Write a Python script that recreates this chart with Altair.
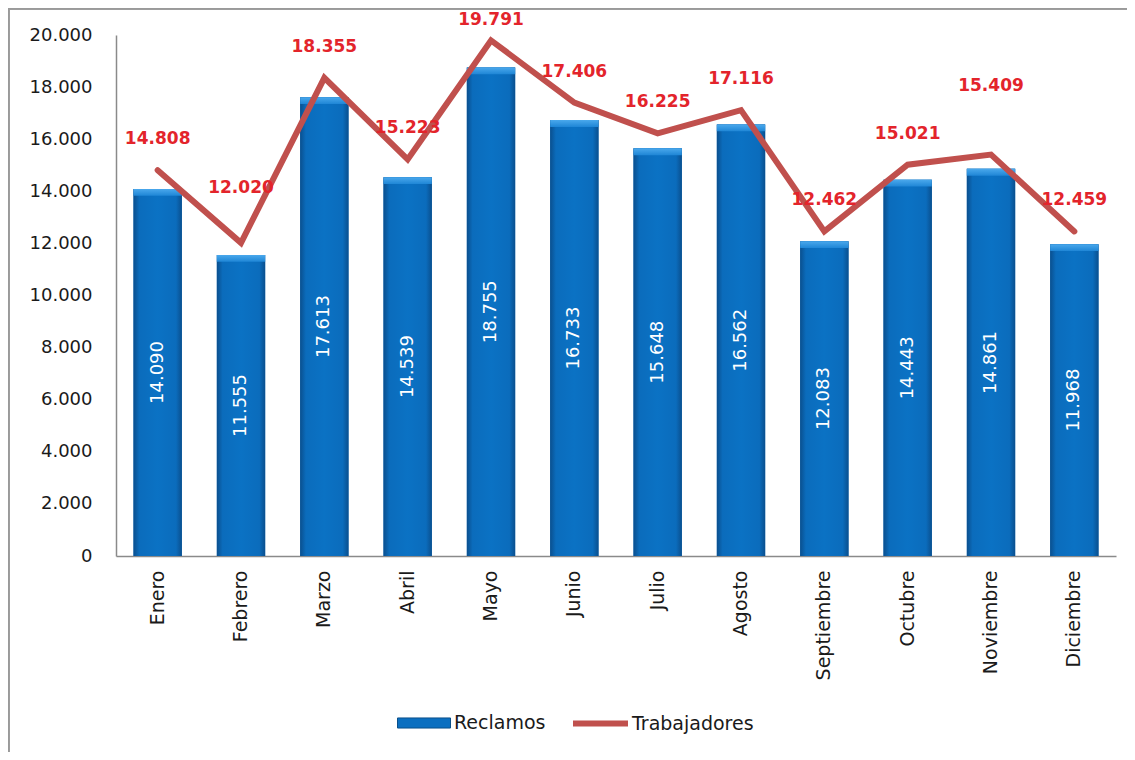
import altair as alt
import pandas as pd

meses = ["Enero", "Febrero", "Marzo", "Abril", "Mayo", "Junio", "Julio",
         "Agosto", "Septiembre", "Octubre", "Noviembre", "Diciembre"]
reclamos = [14090, 11555, 17613, 14539, 18755, 16733, 15648, 16562, 12083, 14443, 14861, 11968]
trabajadores = [14808, 12020, 18355, 15223, 19791, 17406, 16225, 17116, 12462, 15021, 15409, 12459]
y_ticks = [0, 2000, 4000, 6000, 8000, 10000, 12000, 14000, 16000, 18000, 20000]

df = pd.DataFrame({"mes": meses, "reclamos": reclamos, "trabajadores": trabajadores})

FONT = "DejaVu Sans"
AXIS_COL = "#8a8a8a"
BAR_COL = "#0B6FC0"
LINE_COL = "#C0504D"
LABEL_RED = "#E3242B"

x_axis = alt.Axis(title=None, labelAngle=-90, labelAlign="right", labelBaseline="middle",
                  labelFontSize=19, labelFont=FONT, labelColor="#1a1a1a", labelPadding=14,
                  ticks=False, domainColor=AXIS_COL, domainWidth=1.5, grid=False)
x_scale = alt.Scale(paddingInner=0.42, paddingOuter=0.21)
y_axis = alt.Axis(title=None, values=y_ticks,
                  labelExpr="replace(format(datum.value, ','), ',', '.')",
                  labelFontSize=18, labelFont=FONT, labelColor="#1a1a1a",
                  labelPadding=24, ticks=False, grid=False,
                  domainColor=AXIS_COL, domainWidth=1.5)
y_scale = alt.Scale(domain=[0, 20000], nice=False)


def X():
    return alt.X("mes:N", sort=meses, scale=x_scale, axis=x_axis)


def Y(field):
    return alt.Y(field, scale=y_scale, axis=y_axis)


base = alt.Chart(df).transform_calculate(
    rec_txt="replace(format(datum.reclamos, ','), ',', '.')",
    trab_txt="replace(format(datum.trabajadores, ','), ',', '.')",
    mid="datum.reclamos / 2",
    bevel="datum.reclamos - 260",
    serie_r="'Reclamos'",
    serie_t="'Trabajadores'",
)

bars = base.mark_bar().encode(
    x=X(),
    y=Y("reclamos:Q"),
    fill=alt.Fill(
        "serie_r:N",
        scale=alt.Scale(domain=["Reclamos"], range=[BAR_COL]),
        legend=alt.Legend(orient="none", legendX=281, legendY=661, title=None,
                          symbolType="M-1,-0.19H1V0.19H-1Z", symbolSize=2809,
                          symbolStrokeColor="#0a4f8a", symbolStrokeWidth=1,
                          labelFontSize=19, labelFont=FONT, labelColor="#1a1a1a",
                          labelOffset=3, padding=0),
    ),
)

grad = alt.LinearGradient(
    gradient="linear", x1=0, x2=1, y1=0, y2=0,
    stops=[alt.GradientStop(color="#0a4f8e", offset=0),
           alt.GradientStop(color="#0b6cbc", offset=0.12),
           alt.GradientStop(color="#0b72c4", offset=0.5),
           alt.GradientStop(color="#0b6cbc", offset=0.88),
           alt.GradientStop(color="#0a4f8e", offset=1)],
)
bars_grad = base.mark_bar(fill=grad).encode(x=X(), y=Y("reclamos:Q"))

bevel_grad = alt.LinearGradient(
    gradient="linear", x1=0, x2=0, y1=0, y2=1,
    stops=[alt.GradientStop(color="#4aa8ec", offset=0),
           alt.GradientStop(color="#1f86d6", offset=1)],
)
bars_bevel = base.mark_bar(fill=bevel_grad).encode(
    x=X(), y=Y("reclamos:Q"), y2="bevel:Q",
)

bar_text = base.mark_text(angle=270, align="center", baseline="middle", color="white",
                          fontSize=18, font=FONT).encode(
    x=X(), y=Y("mid:Q"), text="rec_txt:N",
)

line = base.mark_line(strokeWidth=6, strokeJoin="miter", strokeCap="round").encode(
    x=X(),
    y=Y("trabajadores:Q"),
    stroke=alt.Stroke(
        "serie_t:N",
        scale=alt.Scale(domain=["Trabajadores"], range=[LINE_COL]),
        legend=alt.Legend(orient="none", legendX=454, legendY=658, title=None,
                          symbolType="stroke", symbolSize=3025, symbolStrokeWidth=6,
                          labelFontSize=19, labelFont=FONT, labelColor="#1a1a1a",
                          labelOffset=1, padding=0),
    ),
)


def line_labels(filter_expr, dy):
    return base.transform_filter(filter_expr).mark_text(
        dy=dy, align="center", baseline="middle", color=LABEL_RED,
        fontSize=17, fontWeight="bold", font=FONT,
    ).encode(x=X(), y=Y("trabajadores:Q"), text="trab_txt:N")


labels_main = line_labels(
    "datum.mes != 'Febrero' && datum.mes != 'Mayo' && datum.mes != 'Noviembre'", -31)
labels_feb = line_labels("datum.mes == 'Febrero'", -55)
labels_may = line_labels("datum.mes == 'Mayo'", -20)
labels_nov = line_labels("datum.mes == 'Noviembre'", -69)

frame_left = alt.Chart(df).mark_rule(color="#9a9a9a", strokeWidth=1.5).encode(
    x=alt.value(-107.5), y=alt.value(-27), y2=alt.value(717))
frame_top = alt.Chart(df).mark_rule(color="#9a9a9a", strokeWidth=1.5).encode(
    x=alt.value(-108), x2=alt.value(1011), y=alt.value(-26.5))

chart = alt.layer(
    bars, bars_grad, bars_bevel, bar_text, line,
    labels_main, labels_feb, labels_may, labels_nov,
    frame_left, frame_top,
).properties(
    width=1000, height=521,
    autosize=alt.AutoSizeParams(type="none"),
    padding={"left": 108, "top": 27, "right": 11, "bottom": 196},
).configure(background="white").configure_view(stroke=None)

chart.save("out.html", embed_options={"renderer": "svg", "actions": False})
